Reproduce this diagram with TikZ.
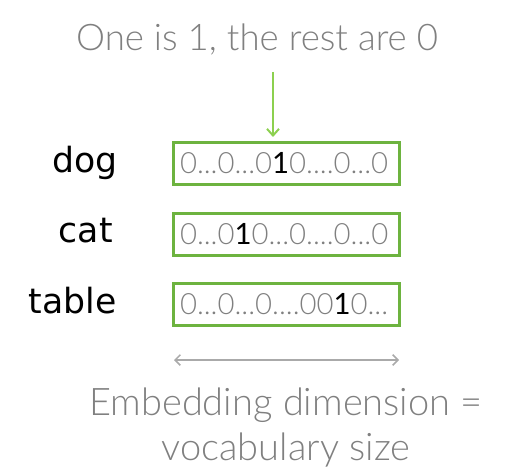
\documentclass[tikz,border=0pt]{standalone}
\usepackage{fontspec}
\setmainfont{Lato Light}
\newfontfamily\labelfont{DejaVu Sans}
\newfontfamily\hotfont{Lato}
\usetikzlibrary{arrows.meta}
\definecolor{hintgray}{HTML}{808080}
\definecolor{arrowgreen}{HTML}{8CD04F}
\definecolor{boxgreen}{HTML}{6DB33F}
\definecolor{spangray}{HTML}{AAAAAA}
\tikzset{
  hinttext/.style={text=hintgray,font=\fontsize{27.5}{30}\selectfont,inner sep=0pt},
  wordlabel/.style={font=\labelfont\fontsize{26}{30}\selectfont,inner sep=0pt,anchor=base east},
  vecbox/.style={draw=boxgreen,line width=2.25pt,text=hintgray,font=\fontsize{22}{24}\selectfont,
    text width=159pt,align=left,inner xsep=5.25pt,minimum height=31.5pt},
}
\newcommand{\hot}{\textcolor{black}{\hotfont 1}}
\begin{document}
\begin{tikzpicture}[x=0.75pt,y=-0.75pt]
		\useasboundingbox (0,0) rectangle (524,474);
		% Title and arrow.
		\node[hinttext,anchor=base] (title) at (257,51) {One is 1, the rest are 0};
		\coordinate (hint) at (273,72);		\coordinate (hinttip) at (273,137);
		\draw[arrowgreen,line width=1.5pt,-{Straight Barb[length=5pt,width=9pt]}] (hint) -- (hinttip);
		
		% One-hot vectors.
		\node[vecbox] (dogvec) at (286,163.5) {0...0...0\hot0....0...0};
		\node[vecbox] (catvec) at (286,234.5) {0...0\hot0...0....0...0};
		\node[vecbox] (tablevec) at (286,304) {0...0...0....00\hot0...};
		\node[wordlabel] (dog) at (118,172) {dog};
		\node[wordlabel] (cat) at (113,242) {cat};
		\node[wordlabel] (table) at (117,313) {table};
		
		% Dimension.
		\coordinate (spanl) at (174,360);		\coordinate (spanr) at (399,360);
		\draw[spangray,line width=1.1pt,{Straight Barb[length=4pt,width=8pt]}-{Straight Barb[length=4pt,width=8pt]}] (spanl) -- (spanr);
		\node[hinttext,anchor=base,font=\fontsize{28.5}{30}\selectfont] (embline) at (286,415) {Embedding dimension =};
		\node[hinttext,anchor=base,font=\fontsize{28.5}{30}\selectfont] (vocline) at (286,460) {vocabulary size};
	\end{tikzpicture}
\end{document}
